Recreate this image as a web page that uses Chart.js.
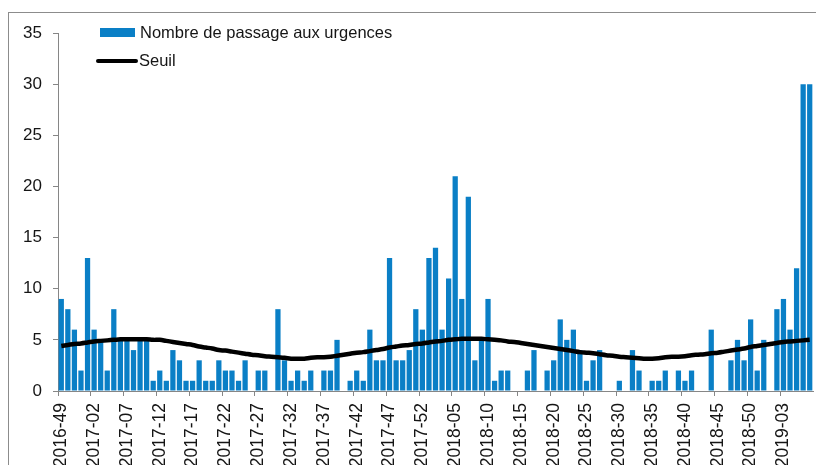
<!DOCTYPE html>
<html>
<head>
<meta charset="utf-8">
<script src="https://cdn.jsdelivr.net/npm/chart.js@4.4.1/dist/chart.umd.min.js"></script>
<style>
  html, body { margin: 0; padding: 0; background: #fff; overflow: hidden; width: 816px; height: 465px; }
  #frame { position: absolute; left: 8px; top: 12px; width: 900px; height: 600px; border: 1px solid #8c8c8c; box-sizing: border-box; }
  #wrap { position: absolute; left: 0; top: 0; width: 830px; height: 480px; }
</style>
</head>
<body>
<div id="frame"></div>
<div id="wrap"><canvas id="c" width="830" height="480"></canvas></div>
<script>
const weeks = [
  "2016-49","2016-50","2016-51","2016-52",
  "2017-01","2017-02","2017-03","2017-04","2017-05","2017-06","2017-07","2017-08","2017-09","2017-10",
  "2017-11","2017-12","2017-13","2017-14","2017-15","2017-16","2017-17","2017-18","2017-19","2017-20",
  "2017-21","2017-22","2017-23","2017-24","2017-25","2017-26","2017-27","2017-28","2017-29","2017-30",
  "2017-31","2017-32","2017-33","2017-34","2017-35","2017-36","2017-37","2017-38","2017-39","2017-40",
  "2017-41","2017-42","2017-43","2017-44","2017-45","2017-46","2017-47","2017-48","2017-49","2017-50",
  "2017-51","2017-52",
  "2018-01","2018-02","2018-03","2018-04","2018-05","2018-06","2018-07","2018-08","2018-09","2018-10",
  "2018-11","2018-12","2018-13","2018-14","2018-15","2018-16","2018-17","2018-18","2018-19","2018-20",
  "2018-21","2018-22","2018-23","2018-24","2018-25","2018-26","2018-27","2018-28","2018-29","2018-30",
  "2018-31","2018-32","2018-33","2018-34","2018-35","2018-36","2018-37","2018-38","2018-39","2018-40",
  "2018-41","2018-42","2018-43","2018-44","2018-45","2018-46","2018-47","2018-48","2018-49","2018-50",
  "2018-51","2018-52",
  "2019-01","2019-02","2019-03","2019-04","2019-05","2019-06","2019-07"
];

const passages = [
  9, 8, 6, 2, 13, 6, 5, 2, 8, 5,
  5, 4, 5, 5, 1, 2, 1, 4, 3, 1,
  1, 3, 1, 1, 3, 2, 2, 1, 3, 0,
  2, 2, 0, 8, 3, 1, 2, 1, 2, 0,
  2, 2, 5, 0, 1, 2, 1, 6, 3, 3,
  13, 3, 3, 4, 8, 6, 13, 14, 6, 11,
  21, 9, 19, 3, 5, 9, 1, 2, 2, 0,
  0, 2, 4, 0, 2, 3, 7, 5, 6, 4,
  1, 3, 4, 0, 0, 1, 0, 4, 2, 0,
  1, 1, 2, 0, 2, 1, 2, 0, 0, 6,
  0, 0, 3, 5, 3, 7, 2, 5, 0, 8,
  9, 6, 12, 30, 30
];

const seuil = [
  4.4, 4.5, 4.6, 4.65, 4.75, 4.85, 4.9, 4.95, 5.0, 5.05,
  5.05, 5.05, 5.05, 5.05, 5.0, 5.0, 4.9, 4.8, 4.7, 4.6,
  4.5, 4.35, 4.25, 4.15, 4.0, 3.95, 3.85, 3.75, 3.65, 3.55,
  3.5, 3.4, 3.35, 3.3, 3.25, 3.15, 3.15, 3.15, 3.25, 3.3,
  3.3, 3.35, 3.45, 3.55, 3.65, 3.75, 3.8, 3.9, 4.0, 4.1,
  4.25, 4.35, 4.45, 4.5, 4.6, 4.65, 4.75, 4.85, 4.9, 5.0,
  5.05, 5.1, 5.1, 5.1, 5.1, 5.05, 5.0, 4.95, 4.85, 4.8,
  4.7, 4.6, 4.5, 4.4, 4.3, 4.2, 4.1, 4.0, 3.9, 3.8,
  3.75, 3.7, 3.6, 3.5, 3.45, 3.35, 3.3, 3.25, 3.2, 3.15,
  3.15, 3.2, 3.3, 3.35, 3.35, 3.4, 3.5, 3.55, 3.6, 3.7,
  3.75, 3.85, 3.95, 4.05, 4.15, 4.3, 4.4, 4.5, 4.6, 4.7,
  4.8, 4.85, 4.9, 4.95, 5.0
];

const yTicks = [0, 5, 10, 15, 20, 25, 30, 35];
const seriesNames = ["Nombre de passage aux urgences", "Seuil"];

const BAR_COLOR = '#0a7fc6';
const AXIS_COLOR = '#868686';
const TEXT_COLOR = '#151515';
const FONT = "'Liberation Sans', Arial, sans-serif";

const legendPlugin = {
  id: 'insideLegend',
  afterDraw(chart) {
    const ctx = chart.ctx;
    ctx.save();
    ctx.fillStyle = BAR_COLOR;
    ctx.fillRect(100, 28, 35, 9);
    ctx.strokeStyle = '#000';
    ctx.lineWidth = 4;
    ctx.lineCap = 'round';
    ctx.beginPath();
    ctx.moveTo(98, 61);
    ctx.lineTo(136, 61);
    ctx.stroke();
    ctx.fillStyle = TEXT_COLOR;
    ctx.font = "16.5px " + FONT;
    ctx.textBaseline = 'middle';
    ctx.textAlign = 'left';
    ctx.fillText(seriesNames[0], 140, 33);
    ctx.fillText(seriesNames[1], 139, 61);
    ctx.restore();
  }
};

new Chart(document.getElementById('c'), {
  data: {
    labels: weeks,
    datasets: [
      {
        type: 'line',
        label: seriesNames[1],
        data: seuil,
        borderColor: '#000',
        borderWidth: 4.5,
        pointRadius: 0,
        tension: 0.4,
        fill: false,
        order: 0
      },
      {
        type: 'bar',
        label: seriesNames[0],
        data: passages,
        backgroundColor: BAR_COLOR,
        borderWidth: 0,
        barPercentage: 0.8,
        categoryPercentage: 1.0,
        order: 1
      }
    ]
  },
  options: {
    responsive: false,
    animation: false,
    layout: { padding: { left: 0, top: 33, right: 17, bottom: 0 } },
    plugins: {
      legend: { display: false },
      tooltip: { enabled: false }
    },
    scales: {
      x: {
        type: 'category',
        offset: true,
        grid: {
          offset: true,
          drawOnChartArea: false,
          drawTicks: true,
          tickLength: 5,
          color: (c) => (c.index % 5 === 0 ? AXIS_COLOR : 'rgba(0,0,0,0)')
        },
        border: { display: true, color: AXIS_COLOR, width: 1 },
        ticks: {
          autoSkip: false,
          minRotation: 90,
          maxRotation: 90,
          padding: 7,
          color: TEXT_COLOR,
          font: { family: FONT, size: 17.5 },
          callback: function (v, i) { return i % 5 === 0 ? weeks[i] : ''; }
        },
        afterFit: (s) => { s.height = 89; s.paddingLeft = 0; s.paddingRight = 0; }
      },
      y: {
        min: 0,
        max: 35,
        afterBuildTicks: (s) => { s.ticks = yTicks.map(v => ({ value: v })); },
        grid: {
          drawOnChartArea: false,
          drawTicks: true,
          tickLength: 5,
          color: AXIS_COLOR
        },
        border: { display: true, color: AXIS_COLOR, width: 1 },
        ticks: {
          padding: 11,
          color: TEXT_COLOR,
          font: { family: FONT, size: 17 }
        },
        afterFit: (s) => { s.width = 58; }
      }
    }
  },
  plugins: [legendPlugin]
});
</script>
</body>
</html>
